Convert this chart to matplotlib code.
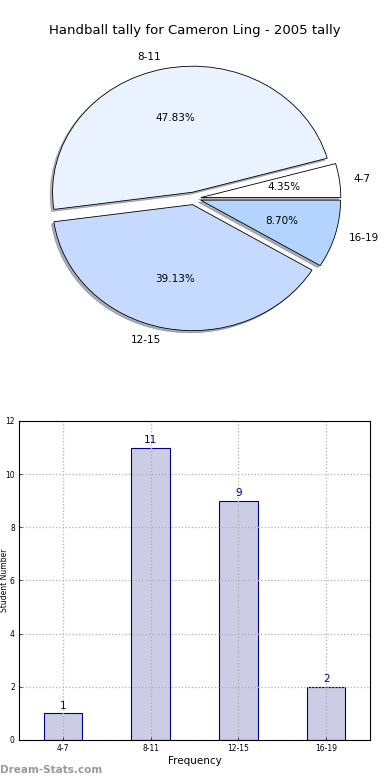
# Handball tally pie + bar chart
import numpy as np
import matplotlib
matplotlib.use('Agg')
import matplotlib.pyplot as plt

# data
categories = ['4-7', '8-11', '12-15', '16-19']
counts = [1, 11, 9, 2]
pie_colors = ['#ffffff', '#eaf1ff', '#c6d9ff', '#b3d4ff']
explode = [0.05, 0.05, 0.05, 0.05]
y_ticks = [0, 2, 4, 6, 8, 10, 12]

plt.rcParams['font.family'] = ['DejaVu Sans']

fig = plt.figure(figsize=(3.9, 7.8), dpi=100)

# 1. pie
ax1 = fig.add_axes([0.0487, 0.5436, 0.897, 0.404])
wedges, texts, autotexts = ax1.pie(counts, labels=categories, colors=pie_colors,
                                   explode=explode, autopct='%1.2f%%',
                                   shadow={'ox': -0.012, 'oy': -0.012, 'shade': 0.55},
                                   startangle=0, labeldistance=1.1, pctdistance=0.6,
                                   wedgeprops={'edgecolor': 'black', 'linewidth': 0.6},
                                   textprops={'fontsize': 7.5})
for t in texts:
    x, y = t.get_position()
    t.set_horizontalalignment('left' if x > 0 else 'right')
    t.set_verticalalignment('center')
ax1.set_aspect('auto')
ax1.set_xlim(-1.25, 1.25)
ax1.set_ylim(-1.25, 1.25)
fig.text(0.5, 0.9615, 'Handball tally for Cameron Ling - 2005 tally',
         ha='center', va='center', fontsize=9.5)

# 2. bar
ax2 = fig.add_axes([0.0487, 0.0513, 0.9, 0.409])
x = np.arange(len(categories))
ax2.bar(x, counts, 0.44, color=(0, 0, 0.5, 0.2), edgecolor='navy', linewidth=0.8)
for xi, c in zip(x, counts):
    ax2.text(xi, c + 0.1, str(c), ha='center', va='bottom', color='navy', fontsize=7.5)
ax2.set_xlim(-0.5, 3.5)
ax2.set_ylim(0, 12)
ax2.set_xticks(x)
ax2.set_xticklabels(categories)
ax2.set_yticks(y_ticks)
ax2.tick_params(labelsize=5.5, length=2, width=0.5, direction='in', pad=3)
ax2.grid(True, linestyle=':', color='#b0b0b0', linewidth=0.9)
ax2.set_xlabel('Frequency', fontsize=7.5, labelpad=2)
ax2.set_ylabel('Student Number', fontsize=5.5)
ax2.yaxis.set_label_coords(-0.029, 0.5)
for s in ax2.spines.values():
    s.set_linewidth(0.8)

fig.text(0.0, 0.013, 'Dream-Stats.com', ha='left', va='center',
         fontsize=7.5, color='#999999', fontweight='bold')

plt.savefig('out.png', dpi=100)
